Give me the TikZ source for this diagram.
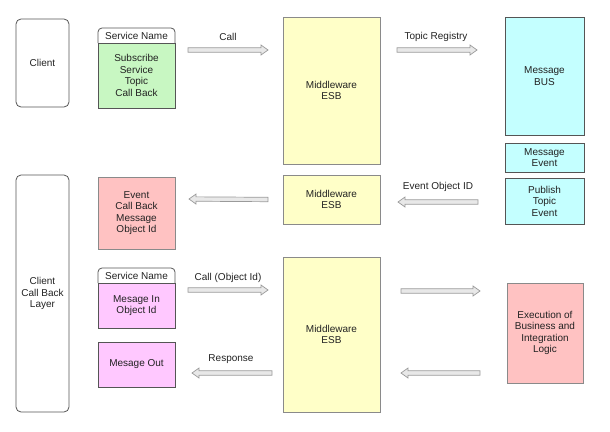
\documentclass[tikz,border=0pt]{standalone}
\usepackage{fontspec}
\setmainfont{Liberation Sans}
\usetikzlibrary{calc,positioning}

\definecolor{boxline}{HTML}{8A8A8A}
\definecolor{darkline}{HTML}{555555}
\definecolor{txt}{HTML}{222222}
\definecolor{esbfill}{HTML}{FFFFC8}
\definecolor{busfill}{HTML}{C4FFFF}
\definecolor{regfill}{HTML}{C8F7C2}
\definecolor{redfill}{HTML}{FFC2C2}
\definecolor{pinkfill}{HTML}{FFC8FF}
\definecolor{arrowline}{HTML}{9A9A9A}
\definecolor{arrowfill}{HTML}{E8E8E8}

\tikzset{
  box/.style={draw=boxline, line width=0.8pt, align=center, outer sep=0pt,
    inner sep=1pt, text=txt, font=\fontsize{10}{11.5}\selectfont},
  lbl/.style={text=txt, font=\fontsize{10}{11.5}\selectfont, inner sep=1pt},
  hollow/.style={draw=arrowline, fill=arrowfill, line width=0.7pt, line join=miter,
    to path={
      ($(\tikztostart)!2.2pt!90:(\tikztotarget)$)
      -- ($(\tikztotarget)!7pt!(\tikztostart)!2.2pt!-90:(\tikztostart)$)
      -- ($(\tikztotarget)!7pt!(\tikztostart)!5pt!-90:(\tikztostart)$)
      -- (\tikztotarget)
      -- ($(\tikztotarget)!7pt!(\tikztostart)!5pt!90:(\tikztostart)$)
      -- ($(\tikztotarget)!7pt!(\tikztostart)!2.2pt!90:(\tikztostart)$)
      -- ($(\tikztostart)!2.2pt!-90:(\tikztotarget)$) -- cycle}}
}

\begin{document}
\begin{tikzpicture}[x=1pt,y=-1pt]
\useasboundingbox (0,0) rectangle (610,431);

% clients
\node[box, rounded corners=5pt, draw=darkline, minimum width=53pt, minimum height=88pt] (client) at (42.5,63) {Client};
\node[box, rounded corners=5pt, draw=darkline, minimum width=53pt, minimum height=237pt] (cblayer) at (42.5,293.5) {Client\\Call Back\\Layer};

% client side messages
\node[box, fill=regfill, draw=darkline, minimum width=77pt, minimum height=65pt] (svcbody1) at (136.5,75.5) {Subscribe\\Service\\Topic\\Call Back};
\node[box, draw=none, minimum width=77pt, minimum height=15pt, above=0pt of svcbody1] (svchead1) {Service Name};
\node[box, fill=redfill, minimum width=77pt, minimum height=72pt] (eventcb) at (136.5,213) {Event\\Call Back\\Message\\Object Id};
\node[box, fill=pinkfill, draw=darkline, minimum width=77pt, minimum height=45pt] (svcbody2) at (136.5,305.5) {Mesage In\\Object Id};
\node[box, draw=none, minimum width=77pt, minimum height=15pt, above=0pt of svcbody2] (svchead2) {Service Name};
\node[box, fill=pinkfill, draw=darkline, minimum width=77pt, minimum height=45pt] (mout) at (136.5,364.5) {Mesage Out};

\draw[darkline, line width=0.8pt, rounded corners=4pt] (svchead1.south west) -- (svchead1.north west) -- (svchead1.north east) -- (svchead1.south east);
\draw[darkline, line width=0.8pt, rounded corners=4pt] (svchead2.south west) -- (svchead2.north west) -- (svchead2.north east) -- (svchead2.south east);

% middleware
\node[box, fill=esbfill, minimum width=97pt, minimum height=147pt] (esb1) at (331.5,90.5) {Middleware\\ESB};
\node[box, fill=esbfill, minimum width=97pt, minimum height=49pt] (esb2) at (331.5,199.5) {Middleware\\ESB};
\node[box, fill=esbfill, minimum width=97pt, minimum height=155pt] (esb3) at (331.5,334.5) {Middleware\\ESB};

% bus side
\node[box, fill=busfill, draw=darkline, minimum width=79pt, minimum height=118pt] (bus) at (544.5,76) {Message\\BUS};
\node[box, fill=busfill, draw=darkline, minimum width=79pt, minimum height=29pt] (msgevent) at (544.5,157.5) {Message\\Event};
\node[box, fill=busfill, draw=darkline, minimum width=79pt, minimum height=46pt] (publish) at (544.5,201) {Publish\\Topic\\Event};
\node[box, fill=redfill, minimum width=76pt, minimum height=100pt] (exec) at (545,333) {Execution of\\Business and\\Integration\\Logic};

% arrows
\draw[hollow] ($(svcbody1.north east)+(13,7)$) to ($(esb1.north west)+(-15,33)$);
\draw[hollow] ($(esb1.north east)+(17,33)$) to ($(bus.north west)+(-28,33)$);
\draw[hollow] ($(esb2.west)+(-15,0)$) to ($(eventcb.east)+(14,-14)$);
\draw[hollow] ($(publish.west)+(-27,1)$) to ($(esb2.east)+(18,2.5)$);
\draw[hollow] ($(svcbody2.north east)+(13,7)$) to ($(esb3.west)+(-15,-44.5)$);
\draw[hollow] ($(esb3.west)+(-11,38.5)$) to ($(mout.east)+(17,8.5)$);
\draw[hollow] ($(esb3.east)+(21,-43.5)$) to ($(exec.west)+(-27,-42)$);
\draw[hollow] ($(exec.west)+(-27,40)$) to ($(esb3.east)+(21,38.5)$);

% labels
\node[lbl] (calllbl) at (228,37) {Call};
\node[lbl] (reglbl) at (436,37) {Topic Registry};
\node[lbl] (evidlbl) at (438,187) {Event Object ID};
\node[lbl] (callidlbl) at (228,278) {Call (Object Id)};
\node[lbl] (resplbl) at (231,359) {Response};
\end{tikzpicture}
\end{document}
